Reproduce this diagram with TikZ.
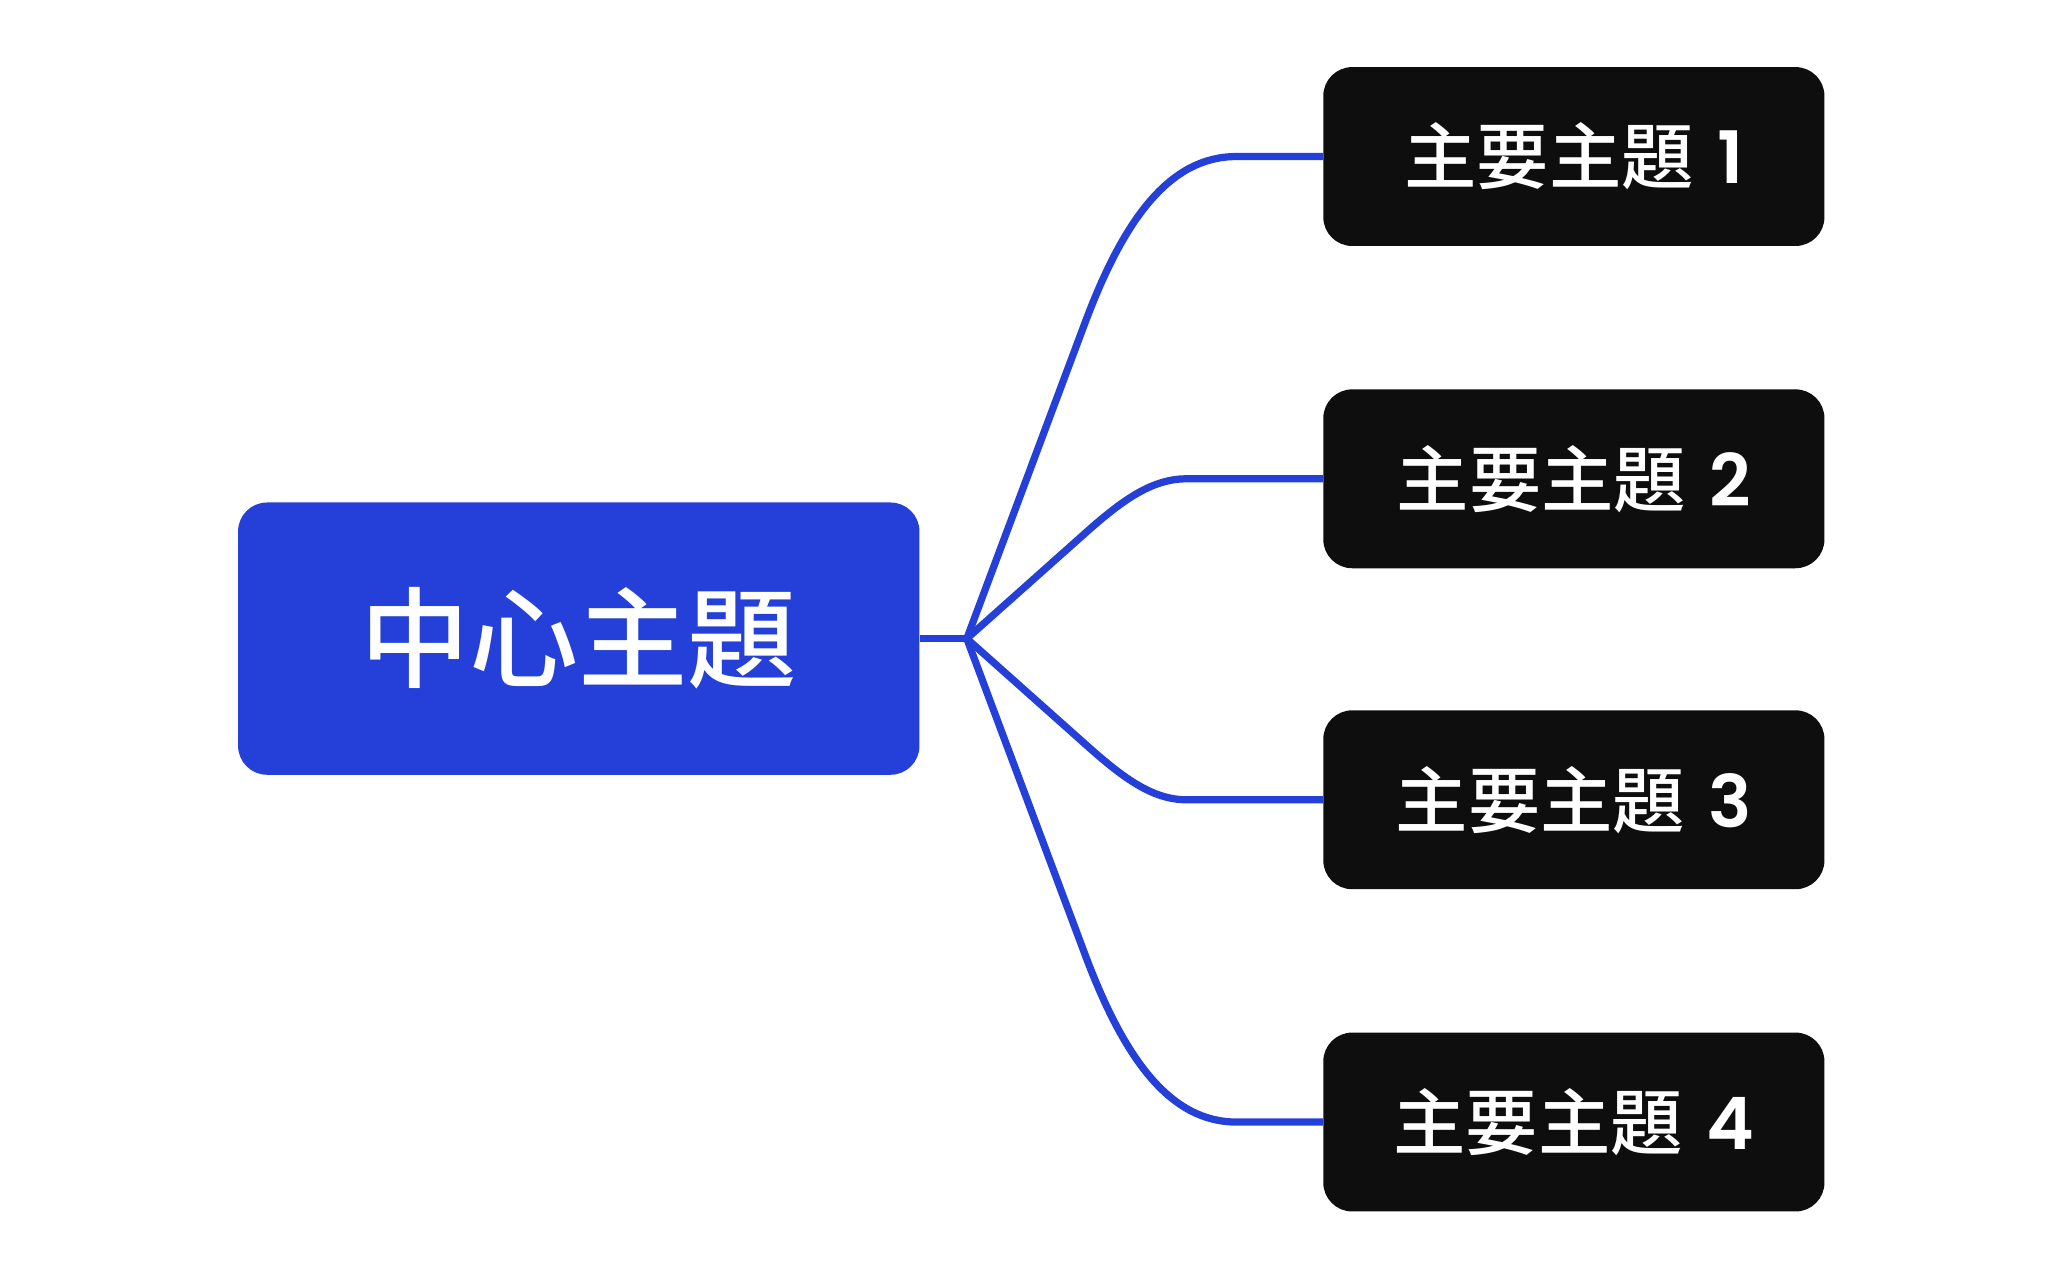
\documentclass[tikz,border=0pt]{standalone}
\usepackage{fontspec}
\newfontfamily\cjk{Noto Sans CJK TC Medium}
\newfontfamily\pop{Poppins SemiBold}
\definecolor{mmblue}{RGB}{36,64,216}
\definecolor{mmblack}{RGB}{14,14,14}
\newcommand{\numlab}[1]{\hspace{0.1em}{\pop #1}}
\begin{document}
\begin{tikzpicture}[x=1pt,y=-1pt,
  centerbox/.style={fill=mmblue,rounded corners=22pt,minimum width=518pt,minimum height=207pt,inner sep=0pt,text=white,font=\cjk\fontsize{83}{90}\selectfont},
  mainbox/.style={fill=mmblack,rounded corners=22pt,minimum width=381pt,minimum height=136pt,inner sep=0pt,text=white,font=\cjk\fontsize{55}{60}\selectfont},
  branch/.style={draw=mmblue,line width=5.5pt,line join=round}]
\useasboundingbox (0,0) rectangle (1560,967);
\fill[white] (0,0) rectangle (1560,967);
\node[centerbox] (c) at (440,485.5) {中心主題};
\node[mainbox] (m1) at (1196.5,119) {主要主題 \numlab{1}};
\node[mainbox] (m2) at (1196.5,364) {主要主題 \numlab{2}};
\node[mainbox] (m3) at (1196.5,608) {主要主題 \numlab{3}};
\node[mainbox] (m4) at (1196.5,853) {主要主題 \numlab{4}};
\coordinate (J) at (735,485.5);
\draw[branch] (c.east) -- (J);
\draw[branch] (J) -- (825,245) .. controls (855,165) and (890,119) .. (940,119) -- (m1.west);
\draw[branch] (J) -- (822,408) .. controls (852,381) and (875,364) .. (902,364) -- (m2.west);
\draw[branch] (J) -- (822,563) .. controls (852,590) and (875,608) .. (902,608) -- (m3.west);
\draw[branch] (J) -- (825,726) .. controls (855,806) and (890,853) .. (940,853) -- (m4.west);
\end{tikzpicture}
\end{document}
